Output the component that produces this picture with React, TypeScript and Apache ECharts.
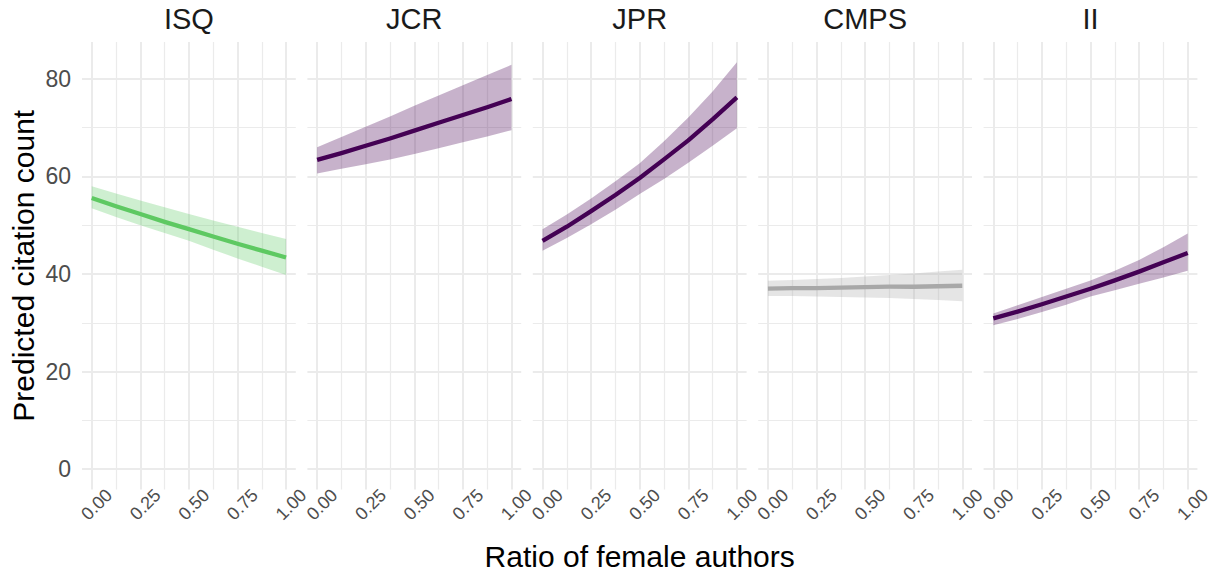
import React, { useEffect, useRef } from "react";
import * as echarts from "echarts";

// ---------- data ----------
const journals = ["ISQ", "JCR", "JPR", "CMPS", "II"];
const ratio = [0, 0.125, 0.25, 0.375, 0.5, 0.625, 0.75, 0.875, 1];

const isqFit = [55.6, 53.9, 52.3, 50.7, 49.2, 47.7, 46.2, 44.8, 43.4];
const isqLow = [53.5, 51.7, 50.0, 48.4, 46.8, 45.0, 43.2, 41.5, 39.8];
const isqHigh = [58.0, 56.5, 55.1, 53.7, 52.3, 51.0, 49.7, 48.4, 47.2];

const jcrFit = [63.4, 64.8, 66.3, 67.8, 69.4, 71.0, 72.6, 74.2, 75.9];
const jcrLow = [60.6, 61.6, 62.5, 63.5, 64.6, 65.8, 67.0, 68.2, 69.5];
const jcrHigh = [66.0, 68.1, 70.2, 72.3, 74.5, 76.6, 78.7, 80.8, 82.9];

const jprFit = [46.8, 49.7, 52.9, 56.2, 59.7, 63.5, 67.4, 71.7, 76.2];
const jprLow = [44.8, 47.4, 50.2, 53.2, 56.4, 59.5, 62.8, 66.3, 69.9];
const jprHigh = [49.2, 52.2, 55.5, 59.0, 62.7, 67.2, 72.1, 77.4, 83.4];

const cmpsFit = [37.0, 37.1, 37.1, 37.2, 37.3, 37.4, 37.4, 37.5, 37.6];
const cmpsLow = [35.5, 35.5, 35.4, 35.3, 35.2, 35.1, 34.9, 34.7, 34.4];
const cmpsHigh = [38.6, 38.8, 39.0, 39.2, 39.5, 39.8, 40.1, 40.5, 40.9];

const iiFit = [30.9, 32.3, 33.8, 35.4, 37.0, 38.7, 40.5, 42.4, 44.3];
const iiLow = [29.5, 30.8, 32.2, 33.7, 35.4, 36.7, 38.0, 39.3, 40.7];
const iiHigh = [31.9, 33.6, 35.3, 37.0, 38.7, 40.7, 42.9, 45.5, 48.3];

const fits = [isqFit, jcrFit, jprFit, cmpsFit, iiFit];
const lows = [isqLow, jcrLow, jprLow, cmpsLow, iiLow];
const highs = [isqHigh, jcrHigh, jprHigh, cmpsHigh, iiHigh];
const groups = ["negative", "positive", "positive", "null", "positive"];

const lineColors: Record<string, string> = {
  negative: "#5ec962",
  positive: "#440154",
  null: "#a8a8a8",
};
const ribbonColors: Record<string, string> = {
  negative: "rgba(94,201,98,0.3)",
  positive: "rgba(68,1,84,0.3)",
  null: "rgba(168,168,168,0.3)",
};

const yLimits = [-4.17, 87.57];
const xLimits = [-0.05, 1.05];
const xStep = 0.25;
const yStep = 20;

const xTitle = "Ratio of female authors";
const yTitle = "Predicted citation count";

// ---------- layout ----------
const W = 1217;
const H = 578;
const PANEL_LEFT = 82;
const PANEL_STEP = 225.4;
const PANEL_W = 213.8;
const PANEL_TOP = 42;
const PANEL_BOTTOM = 88.5;
const FONT = "'Liberation Sans', Arial, Helvetica, sans-serif";
const GRID_COLOR = "#ebebeb";

function buildOption() {
  const grid: any[] = [];
  const xAxis: any[] = [];
  const yAxis: any[] = [];
  const series: any[] = [];
  const graphic: any[] = [];

  journals.forEach((name, i) => {
    const left = PANEL_LEFT + i * PANEL_STEP;
    grid.push({
      left,
      width: PANEL_W,
      top: PANEL_TOP,
      bottom: PANEL_BOTTOM,
      containLabel: false,
    });
    xAxis.push({
      type: "value",
      gridIndex: i,
      min: xLimits[0],
      max: xLimits[1],
      minInterval: xStep,
      maxInterval: xStep,
      splitNumber: 4,
      axisLine: { show: false },
      axisTick: { show: false },
      minorTick: { show: false, splitNumber: 2 },
      axisLabel: {
        show: true,
        interval: 0,
        rotate: 45,
        align: "center",
        verticalAlign: "middle",
        margin: 20,
        padding: [0, 0, 0, 14],
        showMinLabel: false,
        showMaxLabel: false,
        fontSize: 18,
        color: "#4d4d4d",
        fontFamily: FONT,
        formatter: (v: number) => v.toFixed(2),
      },
      splitLine: {
        show: true,
        showMinLine: false,
        showMaxLine: false,
        lineStyle: { color: GRID_COLOR, width: 2 },
      },
      minorSplitLine: {
        show: true,
        lineStyle: { color: GRID_COLOR, width: 1.2 },
      },
    });
    yAxis.push({
      type: "value",
      gridIndex: i,
      min: yLimits[0],
      max: yLimits[1],
      minInterval: yStep,
      maxInterval: yStep,
      splitNumber: 4,
      axisLine: { show: false },
      axisTick: { show: false },
      minorTick: { show: false, splitNumber: 2 },
      axisLabel: {
        show: i === 0,
        margin: 11,
        showMinLabel: false,
        showMaxLabel: false,
        fontSize: 23,
        color: "#4d4d4d",
        fontFamily: FONT,
      },
      splitLine: {
        show: true,
        showMinLine: false,
        showMaxLine: false,
        lineStyle: { color: GRID_COLOR, width: 2 },
      },
      minorSplitLine: {
        show: true,
        lineStyle: { color: GRID_COLOR, width: 1.2 },
      },
    });

    const g = groups[i];
    const low = lows[i];
    const high = highs[i];
    const fit = fits[i];

    series.push({
      type: "custom",
      xAxisIndex: i,
      yAxisIndex: i,
      clip: true,
      silent: true,
      z: 1,
      data: ratio.map((x, k) => [x, low[k], high[k]]),
      encode: { x: 0, y: [1, 2] },
      renderItem: (params: any, api: any) => {
        if (params.dataIndex !== 0) return null;
        const pts: number[][] = [];
        for (let k = 0; k < ratio.length; k++) pts.push(api.coord([ratio[k], high[k]]));
        for (let k = ratio.length - 1; k >= 0; k--) pts.push(api.coord([ratio[k], low[k]]));
        return {
          type: "polygon",
          shape: { points: pts, smooth: 0 },
          style: { fill: ribbonColors[g], stroke: "none" },
        };
      },
    });
    series.push({
      type: "line",
      xAxisIndex: i,
      yAxisIndex: i,
      data: ratio.map((x, k) => [x, fit[k]]),
      symbol: "none",
      smooth: false,
      lineStyle: { color: lineColors[g], width: 4.3, cap: "butt", join: "round" },
      silent: true,
      z: 3,
    });

    graphic.push({
      type: "text",
      x: left + PANEL_W / 2,
      y: 19,
      style: {
        text: name,
        fontSize: 29,
        fontFamily: FONT,
        fill: "#1a1a1a",
        align: "center",
        verticalAlign: "middle",
      },
    });
  });

  const plotLeft = PANEL_LEFT;
  const plotRight = PANEL_LEFT + 4 * PANEL_STEP + PANEL_W;
  graphic.push({
    type: "text",
    x: (plotLeft + plotRight) / 2,
    y: 556,
    style: {
      text: xTitle,
      fontSize: 30,
      fontFamily: FONT,
      fill: "#000000",
      align: "center",
      verticalAlign: "middle",
    },
  });
  graphic.push({
    type: "text",
    x: 23,
    y: PANEL_TOP + (H - PANEL_BOTTOM - PANEL_TOP) / 2,
    rotation: Math.PI / 2,
    style: {
      text: yTitle,
      fontSize: 30,
      fontFamily: FONT,
      fill: "#000000",
      align: "center",
      verticalAlign: "middle",
    },
  });

  return {
    animation: false,
    backgroundColor: "#ffffff",
    grid,
    xAxis,
    yAxis,
    series,
    graphic,
  };
}

export default function App() {
  const ref = useRef<HTMLDivElement>(null);
  useEffect(() => {
    if (!ref.current) return;
    const chart = echarts.init(ref.current, undefined, { renderer: "svg" });
    chart.setOption(buildOption() as any);
    return () => chart.dispose();
  }, []);
  return (
    <div
      ref={ref}
      style={{ position: "fixed", left: 0, top: 0, width: W, height: H, background: "#fff" }}
    />
  );
}
